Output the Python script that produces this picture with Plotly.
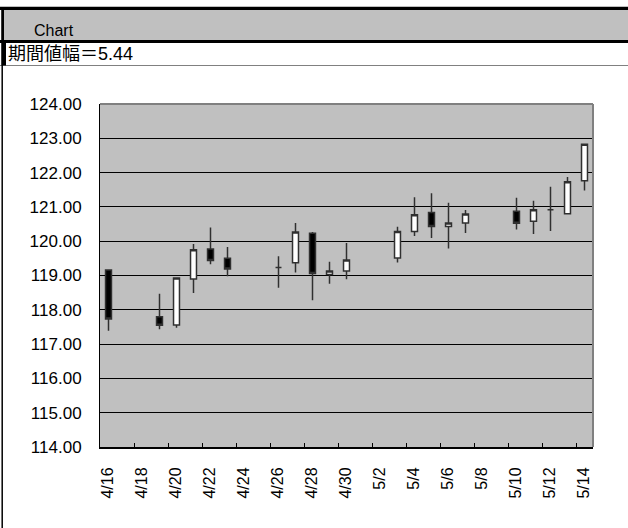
import datetime as dt
import plotly.graph_objects as go

# ---- data ----
dates = ["4/16", "4/19", "4/20", "4/21", "4/22", "4/23", "4/26", "4/27", "4/28", "4/29", "4/30",
         "5/3", "5/4", "5/5", "5/6", "5/7", "5/10", "5/11", "5/12", "5/13", "5/14"]
open_ = [119.16, 117.80, 117.56, 118.90, 119.77, 119.50, 119.23, 119.37, 120.23, 119.03, 119.13,
         119.51, 120.28, 120.84, 120.43, 120.53, 120.87, 120.58, 120.92, 120.80, 121.76]
high = [119.17, 118.47, 118.93, 119.92, 120.40, 119.83, 119.56, 120.53, 120.27, 119.40, 119.95,
        120.42, 121.28, 121.40, 121.12, 120.91, 121.27, 121.18, 121.59, 121.87, 122.83]
low = [117.39, 117.43, 117.48, 118.49, 119.33, 118.98, 118.64, 119.09, 118.28, 118.76, 118.89,
       119.38, 120.15, 120.09, 119.79, 120.24, 120.34, 120.21, 120.30, 120.80, 121.48]
close = [117.73, 117.55, 118.93, 119.75, 119.44, 119.19, 119.23, 120.27, 119.06, 119.13, 119.45,
         120.28, 120.77, 120.43, 120.53, 120.79, 120.52, 120.92, 120.92, 121.73, 122.83]
tick_labels = ["4/16", "4/18", "4/20", "4/22", "4/24", "4/26", "4/28", "4/30",
               "5/2", "5/4", "5/6", "5/8", "5/10", "5/12", "5/14"]
y_min, y_max = 114, 124
header_title = "Chart"
range_label = "期間値幅＝"

START = dt.date(2010, 4, 16)


def day_index(s):
    m, d = map(int, s.split("/"))
    return (dt.date(2010, m, d) - START).days


x = [day_index(s) for s in dates]
tickpos = [day_index(s) - 0.5 for s in tick_labels]
x_last = day_index(tick_labels[-1])
period_range = max(high) - min(low)

# ---- layout geometry (pixels) ----
W, H = 628, 528
L, R, T, B = 100, 35, 104, 81
pw, ph = W - L - R, H - T - B


def px(xp):
    return (xp - L) / pw


def py(yp):
    return (H - B - yp) / ph


def rect(x0, x1, y0, y1, color):
    return dict(type="rect", xref="paper", yref="paper", x0=px(x0), x1=px(x1),
                y0=py(y0), y1=py(y1), fillcolor=color, line=dict(width=0), layer="above")


def hline(x0, x1, y, color, w):
    return dict(type="line", xref="paper", yref="paper", x0=px(x0), x1=px(x1),
                y0=py(y), y1=py(y), line=dict(color=color, width=w))


def vline(xx, y0, y1, color, w):
    return dict(type="line", xref="paper", yref="paper", x0=px(xx), x1=px(xx),
                y0=py(y0), y1=py(y1), line=dict(color=color, width=w))


fig = go.Figure()
fig.add_trace(go.Candlestick(
    x=x, open=open_, high=high, low=low, close=close,
    increasing=dict(fillcolor="white", line=dict(color="#303030", width=1.5)),
    decreasing=dict(fillcolor="black", line=dict(color="#303030", width=1.5)),
    whiskerwidth=0, showlegend=False, hoverinfo="skip",
))

shapes = [
    rect(0, W, 6.7, 10, "black"),          # top black rule
    rect(4, W, 10, 40, "#C0C0C0"),         # gray header band
    rect(0, W, 40, 43, "black"),           # thick rule under header
    hline(0, W, 65.5, "#808080", 1),       # thin rule under range row
    vline(2.2, 10, H, "black", 1.5),       # left sheet border
    rect(1.5, 4, 10, 43, "black"),
    rect(1.5, 6, 43, 65.5, "black"),
    hline(L, W - R, T, "#808080", 2),      # top border of plot area
    vline(W - R, T, H - B, "#808080", 2),  # right border of plot area
]

annotations = [
    dict(text=header_title, x=px(32), y=py(31), xref="paper", yref="paper",
         xanchor="left", yanchor="middle", showarrow=False,
         font=dict(family="Liberation Sans, Arial", size=16, color="black")),
    dict(text=f"{range_label}{period_range:.2f}", x=px(6), y=py(54), xref="paper", yref="paper",
         xanchor="left", yanchor="middle", showarrow=False,
         font=dict(family="Liberation Sans, Noto Sans CJK JP", size=18, color="black")),
]

fig.update_layout(
    width=W, height=H,
    margin=dict(l=L, r=R, t=T, b=B, pad=0),
    paper_bgcolor="white", plot_bgcolor="#C0C0C0",
    boxgap=0.5, boxgroupgap=0.3,
    shapes=shapes, annotations=annotations,
    font=dict(family="Liberation Sans, Arial", color="black"),
    xaxis=dict(
        range=[-0.5, x_last + 0.5], tickmode="array", tickvals=tickpos, ticktext=tick_labels,
        tickangle=-90, ticklabelshift=8, ticklabelstandoff=12,
        ticks="inside", ticklen=4, tickcolor="black", tickwidth=1,
        showgrid=False, zeroline=False, showline=True, linecolor="black", linewidth=2,
        rangeslider=dict(visible=False), tickfont=dict(size=16, color="black"),
        fixedrange=True,
    ),
    yaxis=dict(
        range=[y_min, y_max], dtick=1, tick0=y_min, tickformat=".2f",
        ticks="inside", ticklen=5, tickcolor="black", tickwidth=1,
        showgrid=True, gridcolor="black", gridwidth=1, zeroline=False,
        showline=True, linecolor="black", linewidth=1, ticklabelstandoff=14,
        tickfont=dict(size=17, color="black"), fixedrange=True,
    ),
)

fig.write_html("out.html", config={"displayModeBar": False},
               post_script="document.body.style.margin='0px';")
